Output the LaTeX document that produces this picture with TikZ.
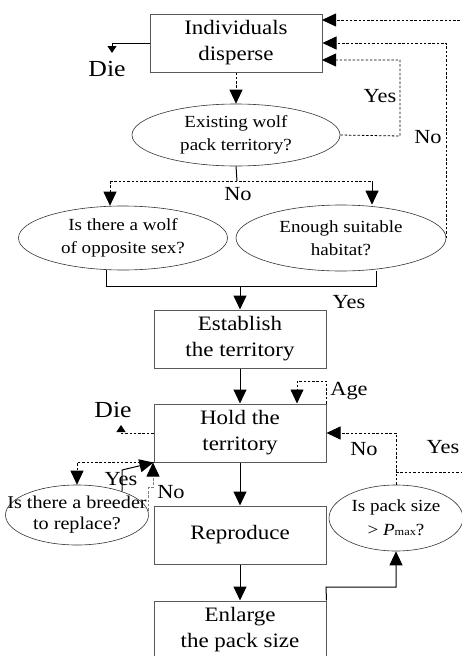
\documentclass[tikz,border=0pt]{standalone}
\usepackage{fontspec}
\setmainfont[FakeStretch=1.12]{Liberation Serif}
\usetikzlibrary{arrows.meta,shapes.geometric}
\begin{document}
\begin{tikzpicture}[x=1pt,y=-1pt,
  box/.style={rectangle,draw=black!65,line width=1pt,minimum width=172pt,minimum height=58pt,inner sep=0pt,align=center,font=\fontsize{20.5}{26}\selectfont},
  dec/.style={ellipse,draw=black!80,line width=0.6pt,inner sep=0pt},
  dtext/.style={align=center,inner sep=0pt,font=\fontsize{17}{23}\selectfont},
  lab/.style={font=\fontsize{20}{24}\selectfont,inner sep=0pt,anchor=base},
  dielab/.style={font=\fontsize{23}{26}\selectfont,inner sep=0pt,anchor=base},
  conn/.style={line width=1pt},
  dsh/.style={line width=0.8pt,dash pattern=on 2.5pt off 1.8pt},
  tip/.style={-{Triangle[length=14pt,width=13pt,color=black]}},
  smalltip/.style={-{Triangle[length=7pt,width=9pt,color=black]}},
]
\useasboundingbox (0,0) rectangle (462,656);
\clip (0,0) rectangle (462,656);

% boxes
\node[box] (disp) at (236,43) {Individuals\\disperse};
\node[box] (est) at (240,339) {Establish\\the territory};
\node[box] (hold) at (240,433) {Hold the\\territory};
\node[box] (repr) at (240,535) {Reproduce};
\node[box] (enl) at (240,630) {Enlarge\\the pack size};

% decisions
\node[dec,minimum width=208pt,minimum height=62pt] (exist) at (236,135) {};
\node[dtext] (existT) at (exist) {Existing wolf\\pack territory?};
\node[dec,minimum width=209pt,minimum height=64pt] (sex) at (123,238) {};
\node[dtext] (sexT) at (sex) {Is there a wolf\\of opposite sex?};
\node[dec,minimum width=210pt,minimum height=66pt] (hab) at (341,238) {};
\node[dtext] (habT) at (hab) {Enough suitable\\habitat?};
\node[dec,minimum width=143pt,minimum height=60pt] (breeder) at (77,515) {};
\node[dtext,font=\fontsize{18}{21}\selectfont] (breederT) at (breeder) {Is there a breeder\\to replace?};
\node[dec,minimum width=134pt,minimum height=66pt] (pack) at (396,518) {};
\node[dtext,font=\fontsize{17}{24}\selectfont] (packT) at (pack) {Is pack size\\> \textit{P}{\fontsize{11}{11}\selectfont max}?};

% labels
\node[dielab] (die1) at (107,76) {Die};
\node[dielab] (die2) at (113,417) {Die};
\node[lab] (yesA) at (380,102) {Yes};
\node[lab] (noA) at (428,143) {No};
\node[lab] (noB) at (238,200) {No};
\node[lab] (yesB) at (349,308) {Yes};
\node[lab] (age) at (349,395) {Age};
\node[lab] (noC) at (364,455) {No};
\node[lab] (yesC) at (443,453) {Yes};
\node[lab] (yesD) at (121,485) {Yes};
\node[lab] (noD) at (171,498) {No};

% coordinates
\coordinate (d1) at (112,53);
\coordinate (yl) at (400,136);
\coordinate (yt) at (322,60);
\coordinate (ty) at (396,472);
\coordinate (rr) at (475,472);
\coordinate (rt) at (475,20);
\coordinate (dt) at (322,20);
\coordinate (ex1) at (237,181);
\coordinate (bl) at (110,181);
\coordinate (br) at (372,181);
\coordinate (bk1) at (106,270);
\coordinate (bk2) at (106,286);
\coordinate (bk3) at (376,286);
\coordinate (bk4) at (376,271);
\coordinate (bm) at (240,286);
\coordinate (ag) at (297,381);
\coordinate (d2) at (121,425);
\coordinate (ep) at (326,587);
\coordinate (ya) at (122,491);
\coordinate (yb) at (122,470);
\coordinate (na) at (153,487);

% connectors
\draw[conn,smalltip] (disp.west) -| (d1);
\draw[dsh,tip] (disp.south) -- (exist.north);
\draw[dsh,tip] (exist.east) -- (yl) |- (yt);
\draw[dsh,tip] (hab.east) |- (disp.east);
\draw[dsh,tip] (ty) -- (rr) -- (rt) -- (dt);
\draw[conn] (exist.south) -- (ex1);
\draw[dsh] (bl) -- (br);
\draw[dsh,tip] (bl) -- (bl |- sex.north);
\draw[conn,tip] (br) -- (br |- hab.north);
\draw[conn] (bk1) -- (bk2) -- (bk3) -- (bk4);
\draw[conn,tip] (bm) -- (est.north);
\draw[conn,tip] (est.south) -- (hold.north);
\draw[dsh,tip] (hold.north east) |- (ag) -- (ag |- hold.north);
\draw[dsh,smalltip] (hold.west) -| (d2);
\draw[conn,tip] (hold.south) -- (repr.north);
\draw[conn,tip] (repr.south) -- (enl.north);
\draw[conn,tip] (enl.north east) -- (ep) -| (pack.south);
\draw[dsh,tip] (pack.north) |- (hold.east);
\draw[dsh,tip] (hold.south west) -| (breeder.north);
\draw[conn,tip] (ya) -- (yb) -- (hold.south west);
\draw[dsh,draw=black!50,tip] (breeder.east) |- (na) -- (na |- hold.south);
\end{tikzpicture}
\end{document}
